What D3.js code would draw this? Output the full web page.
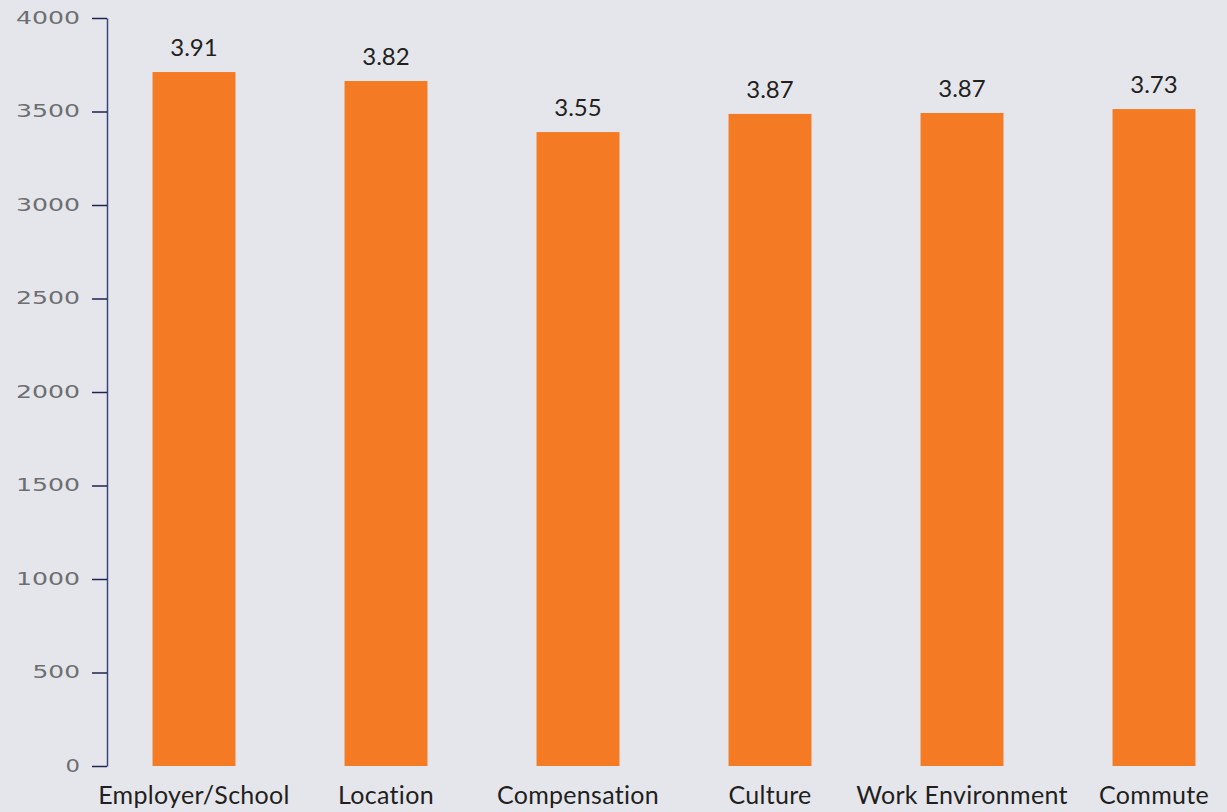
<!DOCTYPE html>
<html>
  <head>
    <script src="https://cdnjs.cloudflare.com/ajax/libs/d3/7.8.5/d3.min.js"></script>
    <style>
      body { margin: 0; background: #e5e6eb; }
      svg { display: block; }
      .y-axis path.domain { stroke: #3b4677; stroke-width: 1.5; }
      .y-axis .tick line { stroke: #1c2550; stroke-width: 1.5; }
      .y-axis .tick text {
        fill: #6e6e70;
        font-family: "DejaVu Sans", sans-serif;
        font-size: 17px;
      }
      rect.bar { fill: #f47a24; }
      text.value {
        fill: #231f20;
        font-family: Lato, sans-serif;
        font-size: 24px;
        text-anchor: middle;
      }
      text.category {
        fill: #231f20;
        font-family: Lato, sans-serif;
        font-size: 25px;
        letter-spacing: 0.3px;
        text-anchor: middle;
      }
    </style>
  </head>
  <body>
    <svg width="1227" height="812"></svg>
    <script>
      // data
      var categories = ["Employer/School", "Location", "Compensation", "Culture", "Work Environment", "Commute"];
      var counts = [3711, 3663, 3390, 3487, 3492, 3513];
      var ratings = ["3.91", "3.82", "3.55", "3.87", "3.87", "3.73"];
      var yTicks = [0, 500, 1000, 1500, 2000, 2500, 3000, 3500, 4000];

      var svg = d3.select("svg");

      var x = d3.scaleBand()
        .domain(categories)
        .range([98, 1250])
        .paddingInner(0.568)
        .paddingOuter(0.284);

      var y = d3.scaleLinear().domain([0, 4000]).range([766, 18]);

      var yAxis = svg.append("g")
        .attr("class", "y-axis")
        .attr("transform", "translate(107,0)")
        .call(d3.axisLeft(y)
          .tickValues(yTicks)
          .tickFormat(d3.format("d"))
          .tickSize(15)
          .tickPadding(12)
          .tickSizeOuter(0));

      // wide geometric look of the tick font
      yAxis.selectAll(".tick text")
        .attr("textLength", d => String(d).length * 16.5 - 2)
        .attr("lengthAdjust", "spacingAndGlyphs");

      var rows = categories.map((c, i) => ({ cat: c, count: counts[i], rating: ratings[i] }));

      svg.selectAll("rect.bar")
        .data(rows)
        .enter()
        .append("rect")
        .attr("class", "bar")
        .attr("x", d => x(d.cat))
        .attr("width", x.bandwidth())
        .attr("y", d => y(d.count))
        .attr("height", d => y(0) - y(d.count));

      svg.selectAll("text.value")
        .data(rows)
        .enter()
        .append("text")
        .attr("class", "value")
        .attr("x", d => x(d.cat) + x.bandwidth() / 2)
        .attr("y", d => y(d.count) - 16)
        .text(d => d.rating);

      svg.selectAll("text.category")
        .data(rows)
        .enter()
        .append("text")
        .attr("class", "category")
        .attr("x", d => x(d.cat) + x.bandwidth() / 2)
        .attr("y", 804)
        .text(d => d.cat);
    </script>
  </body>
</html>
